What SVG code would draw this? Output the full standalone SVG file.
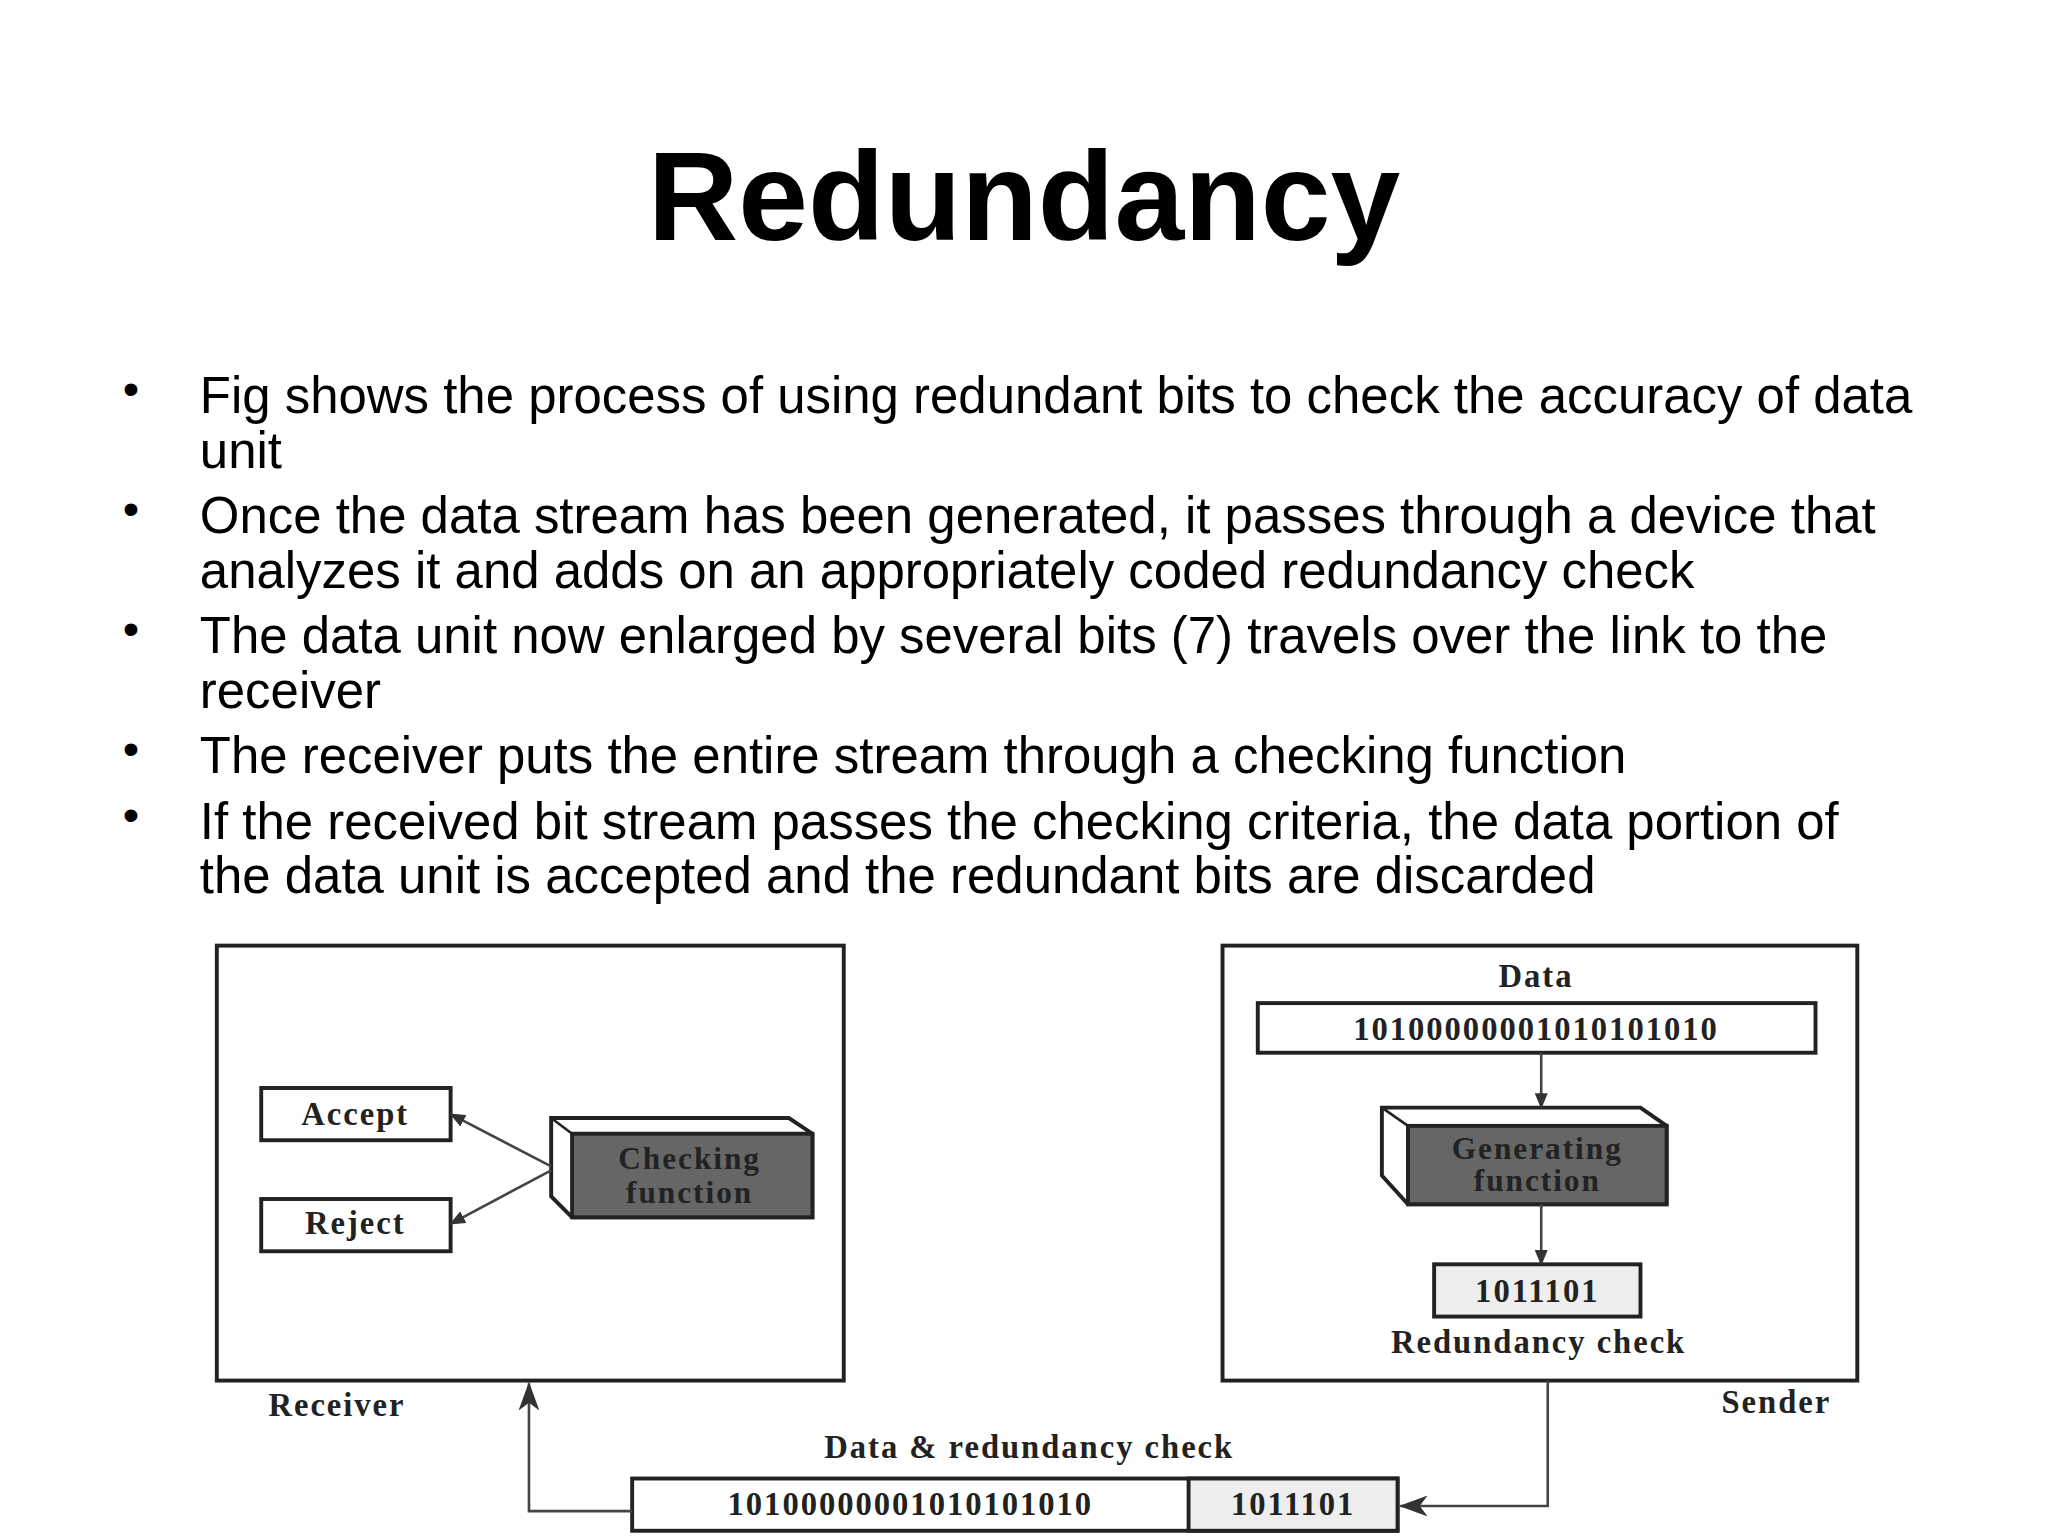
<svg xmlns="http://www.w3.org/2000/svg" width="2048" height="1536" viewBox="0 0 2048 1536">
<defs>
<style>
.t{font-family:"Liberation Sans",Arial,sans-serif;fill:#000}
.d{font-family:"Liberation Serif","Times New Roman",serif;fill:#222;font-size:25px;font-weight:bold;letter-spacing:1.5px;text-anchor:middle}
.f{font-size:24px}
.b{fill:#fff;stroke:#222;stroke-width:3}
.c{stroke:#444;stroke-width:2;fill:none}
</style>
<marker id="a" markerWidth="12" markerHeight="10" refX="11" refY="5" orient="auto" markerUnits="userSpaceOnUse"><path d="M0,0 L12,5 L0,10 z" fill="#333"/></marker>
<marker id="a2" markerWidth="22" markerHeight="16" refX="21" refY="8" orient="auto" markerUnits="userSpaceOnUse"><path d="M0,0 L22,8 L0,16 L6,8 z" fill="#333"/></marker>
</defs>
<rect width="2048" height="1536" fill="#fff"/>
<g transform="scale(1.30612)">
<text class="t" x="784" y="184" font-size="96" font-weight="bold" text-anchor="middle">Redundancy</text>
<g class="t" font-size="39">
<text x="94" y="310" font-size="36">•</text><text x="153" y="316">Fig shows the process of using redundant bits to check the accuracy of data</text>
<text x="153" y="358">unit</text>
<text x="94" y="402" font-size="36">•</text><text x="153" y="408">Once the data stream has been generated, it passes through a device that</text>
<text x="153" y="450">analyzes it and adds on an appropriately coded redundancy check</text>
<text x="94" y="494" font-size="36">•</text><text x="153" y="500">The data unit now enlarged by several bits (7) travels over the link to the</text>
<text x="153" y="542">receiver</text>
<text x="94" y="586" font-size="36">•</text><text x="153" y="592">The receiver puts the entire stream through a checking function</text>
<text x="94" y="636" font-size="36">•</text><text x="153" y="642">If the received bit stream passes the checking criteria, the data portion of</text>
<text x="153" y="684">the data unit is accepted and the redundant bits are discarded</text>
</g>
<g id="receiver"><rect class="b" x="166" y="724" width="480" height="333"/><text class="d" x="258" y="1084">Receiver</text></g>
<g id="sender"><rect class="b" x="936" y="724" width="486" height="333"/><text class="d" x="1360" y="1082">Sender</text></g>
<g id="data"><text class="d" x="1176" y="756">Data</text><rect class="b" x="963" y="768" width="427" height="38"/><text class="d" x="1176" y="796">10100000001010101010</text></g>
<g id="gen"><path d="M1058,848 L1256,848 L1276,862 L1276,922 L1078,922 L1058,900 Z" fill="#fff" stroke="#222" stroke-width="3"/><rect x="1078" y="862" width="198" height="60" fill="#666" stroke="#222" stroke-width="3"/><line x1="1058" y1="848" x2="1078" y2="862" stroke="#222" stroke-width="2"/><text class="d f" x="1177" y="887">Generating</text><text class="d f" x="1177" y="912">function</text></g>
<g id="rc"><rect x="1098" y="968" width="158" height="40" fill="#eee" stroke="#222" stroke-width="3"/><text class="d" x="1177" y="997">1011101</text><text class="d" x="1178" y="1036">Redundancy check</text></g>
<g id="accept"><rect class="b" x="200" y="833" width="145" height="40"/><text class="d" x="272" y="861">Accept</text></g>
<g id="reject"><rect class="b" x="200" y="918" width="145" height="40"/><text class="d" x="272" y="945">Reject</text></g>
<g id="check"><path d="M422,856 L604,856 L622,868 L622,932 L438,932 L422,916 Z" fill="#fff" stroke="#222" stroke-width="3"/><rect x="438" y="868" width="184" height="64" fill="#666" stroke="#222" stroke-width="3"/><line x1="422" y1="856" x2="438" y2="868" stroke="#222" stroke-width="2"/><text class="d f" x="528" y="895">Checking</text><text class="d f" x="528" y="921">function</text></g>
<g id="stream"><text class="d" x="788" y="1116">Data &amp; redundancy check</text><rect class="b" x="484" y="1132" width="586" height="40"/><rect x="910" y="1132" width="160" height="40" fill="#eee" stroke="#222" stroke-width="3"/><text class="d" x="697" y="1160">10100000001010101010</text><text class="d" x="990" y="1160">1011101</text></g>
<g id="connectors">
<line class="c" x1="1180" y1="806" x2="1180" y2="848" marker-end="url(#a)"/>
<line class="c" x1="1180" y1="922" x2="1180" y2="968" marker-end="url(#a)"/>
<line class="c" x1="422" y1="893" x2="345" y2="853" marker-end="url(#a)"/>
<line class="c" x1="422" y1="896" x2="345" y2="937" marker-end="url(#a)"/>
<polyline class="c" points="1185,1057 1185,1153 1072,1153" marker-end="url(#a2)"/>
<polyline class="c" points="484,1157 405,1157 405,1059" marker-end="url(#a2)"/>
</g>
</g>
</svg>
